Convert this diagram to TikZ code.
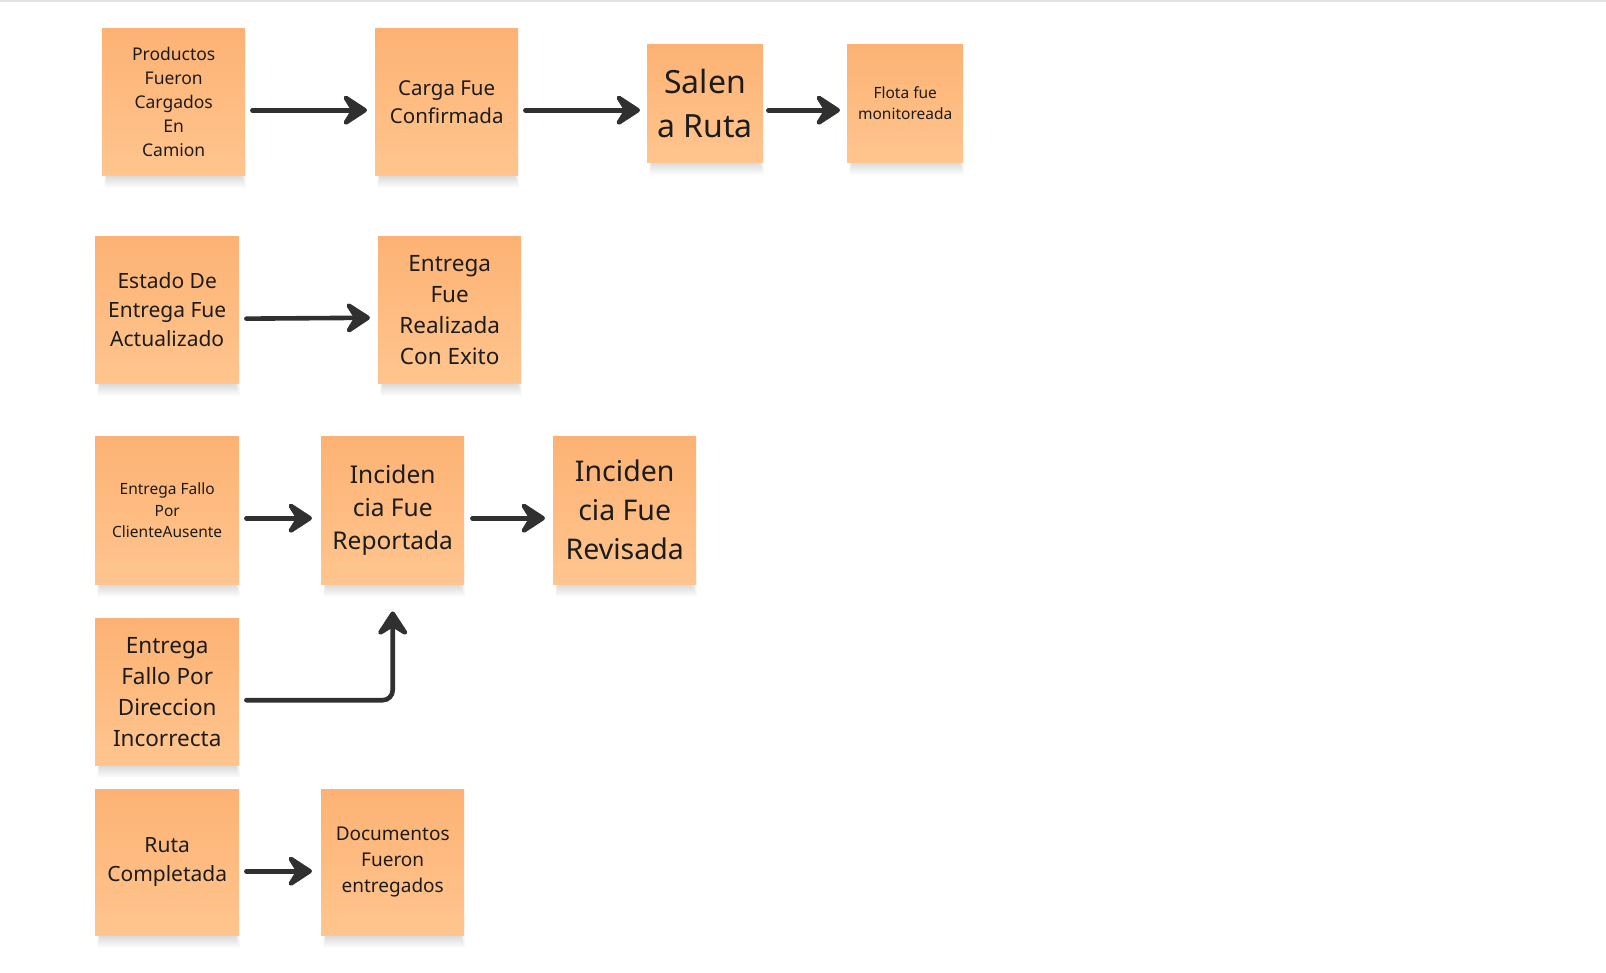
\documentclass[tikz,border=0pt]{standalone}
\usepackage{fontspec}
\setmainfont{Noto Sans}
\usetikzlibrary{arrows.meta,calc,backgrounds}

\definecolor{noteTop}{RGB}{253,178,116}
\definecolor{noteBot}{RGB}{255,197,142}
\definecolor{inkc}{RGB}{28,28,28}
\definecolor{arrowc}{RGB}{48,48,48}
\definecolor{edgeline}{RGB}{226,226,226}

\pgfdeclarelayer{shade}
\pgfsetlayers{background,shade,main}

% soft drop shadow under the lower edge of a sticky note
\newcommand{\notedrop}[1]{%
  \begin{pgfonlayer}{shade}
    \foreach \d in {1,...,13}{
      \fill[black, opacity=0.011]
        ([xshift={5pt-0.2*\d pt}, yshift=20pt]#1.south west) rectangle
        ([xshift={-5pt+0.45*\d pt}, yshift={-\d pt}]#1.south east);
    }
  \end{pgfonlayer}}

\begin{document}
\begin{tikzpicture}[x=1pt,y=-1pt,
  note/.style={anchor=north west, inner sep=0pt, align=center,
    top color=noteTop, bottom color=noteBot, draw=none, text=inkc},
  sz/.style 2 args={minimum width=#1pt, minimum height=#2pt},
  flow/.style={draw=arrowc, line width=4.6pt, line cap=round,
    -{Stealth[length=30pt, width=39pt, inset=12pt, round]}},
]
% canvas
\useasboundingbox (0,0) rectangle (1606,972);
\begin{pgfonlayer}{background}
  \fill[white] (0,0) rectangle (1606,972);
  \fill[edgeline] (0,0) rectangle (1606,1.6);
\end{pgfonlayer}

% sticky notes, first row
\node[note, sz={143}{147}, font=\fontsize{17.5}{24}\selectfont] (prod) at (102,28)
  {Productos\\Fueron\\Cargados\\En\\Camion};
\node[note, sz={143}{147}, font=\fontsize{20.5}{28}\selectfont] (carga) at (375,28)
  {Carga Fue\\Confirmada};
\node[note, sz={116}{118}, font=\fontsize{32}{44}\selectfont] (salen) at (647,44)
  {Salen\\a Ruta};
\node[note, sz={116}{118}, font=\fontsize{15.5}{21.5}\selectfont] (flota) at (847,44)
  {Flota fue\\monitoreada};

% second row
\node[note, sz={144}{147}, font=\fontsize{21}{28.7}\selectfont] (estado) at (95,236)
  {Estado De\\Entrega Fue\\Actualizado};
\node[note, sz={143}{147}, font=\fontsize{22.5}{31}\selectfont] (exito) at (378,236)
  {Entrega\\Fue\\Realizada\\Con Exito};

% incident rows
\node[note, sz={144}{148}, font=\fontsize{15.5}{21.5}\selectfont] (ausente) at (95,436)
  {Entrega Fallo\\Por\\ClienteAusente};
\node[note, sz={143}{148}, font=\fontsize{24.5}{33.3}\selectfont] (reportada) at (321,436)
  {Inciden\\cia Fue\\Reportada};
\node[note, sz={143}{148}, font=\fontsize{28.5}{39}\selectfont] (revisada) at (553,436)
  {Inciden\\cia Fue\\Revisada};
\node[note, sz={144}{147}, font=\fontsize{22.5}{31}\selectfont] (direccion) at (95,618)
  {Entrega\\Fallo Por\\Direccion\\Incorrecta};

% last row
\node[note, sz={144}{146}, font=\fontsize{21}{28.7}\selectfont] (ruta) at (95,789)
  {Ruta\\Completada};
\node[note, sz={143}{146}, font=\fontsize{19}{26}\selectfont] (docs) at (321,789)
  {Documentos\\Fueron\\entregados};

\foreach \n in {prod,carga,salen,flota,estado,exito,ausente,reportada,revisada,direccion,ruta,docs}
  {\notedrop{\n}}

% connectors
\draw[flow, shorten <=7pt, shorten >=8pt] ([yshift=-8.5pt]prod.east) -- ([yshift=-8.5pt]carga.west);
\draw[flow, shorten <=7pt, shorten >=7pt] ([yshift=-8.5pt]carga.east) -- ([yshift=-7pt]salen.west);
\draw[flow, shorten <=5pt, shorten >=7pt] ([yshift=-7pt]salen.east) -- ([yshift=-7pt]flota.west);
\draw[flow, shorten <=7pt, shorten >=8pt] ([yshift=-9pt]estado.east) -- ([yshift=-8pt]exito.west);
\draw[flow, shorten <=7pt, shorten >=9pt] ([yshift=-8pt]ausente.east) -- ([yshift=-8pt]reportada.west);
\draw[flow, shorten <=8pt, shorten >=8pt] ([yshift=-8pt]reportada.east) -- ([yshift=-8pt]revisada.west);
\draw[flow, rounded corners=10pt, shorten <=7pt, shorten >=27pt]
  ([yshift=-8.5pt]direccion.east) -| (reportada.south);
\draw[flow, shorten <=7pt, shorten >=9pt] ([yshift=-9pt]ruta.east) -- ([yshift=-9pt]docs.west);
\end{tikzpicture}
\end{document}
